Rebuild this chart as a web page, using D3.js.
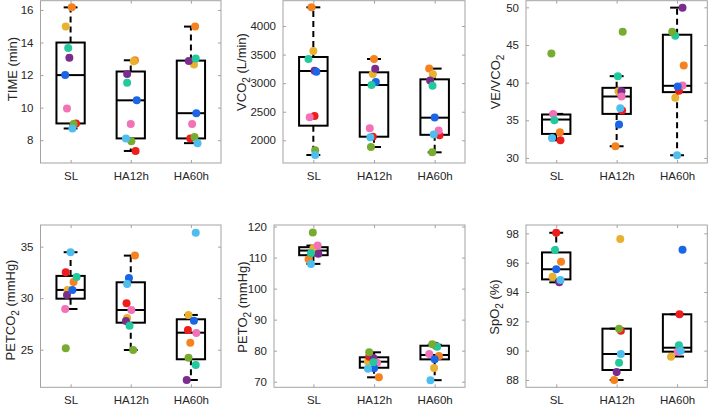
<!DOCTYPE html>
<html lang="en">
<head>
<meta charset="UTF-8">
<title>Box plots</title>
<style>
  body { margin: 0; background: #fff; }
  text { font-family: "Liberation Sans", Arial, sans-serif; }
</style>
</head>
<body>
<div id="chart"></div>
<script src="https://d3js.org/d3.v7.min.js"></script>
<script>
// categories
var groups = ["SL", "HA12h", "HA60h"];

// subject colours, in drawing order
var subjColors = ["#f5821f", "#e8b130", "#ee1c1c", "#7b2d8e", "#f272b8", "#1a66e6", "#22c99c", "#77ac30", "#4dbeee"];

// values per group, subjects: orange, gold, red, purple, pink, blue, teal, green, lightblue
var timeVals = [
    [16.16, 14.98, 9.03, 13.06, 9.95, 12.0, 13.67, 9.0, 8.72],
    [12.91, 12.85, 7.34, 12.06, 8.99, 10.45, 11.53, 7.93, 8.11],
    [14.98, 12.65, 8.11, 12.87, 8.99, 9.66, 13.02, 8.19, 7.82]
];
var vco2Vals = [
    [4327, 3563, 2425, 3218, 2402, 3200, 3423, 1825, 1743],
    [3423, 3160, 2063, 3253, 2210, 3020, 2968, 1883, 2052],
    [3255, 3155, 2087, 3047, 2172, 2399, 2955, 1790, 2100]
];
var vevco2Vals = [
    [33.4, null, 32.35, null, 35.85, null, 35.0, 43.88, 32.66],
    [31.55, 38.87, 36.3, 38.85, 38.16, 34.43, 40.86, 46.76, 36.6],
    [42.28, 37.98, 38.91, 49.96, 39.62, 39.49, 46.23, 46.76, 30.36]
];
var petco2Vals = [
    [31.57, 30.8, 32.51, 30.31, 28.95, 30.8, 32.06, 25.13, 34.46],
    [34.13, 28.08, 29.5, 27.79, 28.85, 31.96, 27.33, 24.97, 31.38],
    [25.68, 28.37, 26.91, 22.06, 26.62, 27.82, 23.51, 24.22, 36.36]
];
var peto2Vals = [
    [109.5, 113.0, null, 111.2, 113.87, null, 111.4, 118.07, 107.97],
    [71.42, 76.45, 78.06, 77.64, 76.13, 74.3, 76.24, 79.48, 74.2],
    [78.3, 74.4, null, 81.6, 78.9, 77.2, 81.3, 82.06, 70.5]
];
var spo2Vals = [
    [96.07, 95.04, 98.04, 94.66, null, 95.55, 96.86, null, 94.82],
    [88.0, 97.61, 91.36, 88.55, null, null, 89.18, 91.5, 89.77],
    [null, 89.59, 92.48, null, 89.93, 96.88, 90.36, null, 90.0]
];

// horizontal jitter of each dot (category units)
var timeJit = [
    [0.02, -0.08, 0.09, -0.02, -0.06, -0.09, -0.04, 0.05, 0.03],
    [0.07, 0.05, 0.08, -0.06, 0.0, 0.10, -0.06, 0.01, -0.08],
    [0.07, 0.05, -0.01, -0.035, 0.02, 0.09, 0.08, 0.06, 0.11]
];
var vco2Jit = [
    [-0.03, 0.0, 0.02, 0.02, -0.06, 0.05, -0.08, 0.03, 0.03],
    [0.0, -0.02, -0.02, 0.02, -0.07, 0.03, -0.04, -0.05, -0.06],
    [-0.09, -0.03, 0.08, -0.075, 0.065, 0.0, -0.035, -0.04, -0.015]
];
var vevco2Jit = [
    [0.06, 0, 0.07, 0, -0.05, 0, -0.03, -0.08, -0.07],
    [-0.02, 0.03, 0.09, 0.08, 0.08, 0.04, 0.02, 0.10, 0.06],
    [0.11, -0.03, 0.03, 0.09, 0.09, 0.01, -0.03, -0.08, 0.0]
];
var petco2Jit = [
    [0.05, -0.05, -0.08, -0.06, -0.09, 0.03, 0.10, -0.08, 0.0],
    [0.07, -0.06, -0.07, -0.08, 0.01, -0.03, -0.02, 0.04, -0.06],
    [-0.01, -0.04, -0.05, -0.07, 0.09, 0.05, 0.08, -0.04, 0.08]
];
var peto2Jit = [
    [-0.08, 0.0, 0, 0.08, 0.07, 0, -0.04, -0.01, -0.04],
    [0.08, -0.10, -0.08, -0.01, 0.05, 0.0, -0.01, -0.08, -0.10],
    [0.07, -0.01, 0, 0.02, -0.09, 0.0, 0.04, -0.04, -0.07]
];
var spo2Jit = [
    [0.08, -0.06, 0.0, 0.05, 0, 0.0, -0.02, 0, 0.07],
    [-0.04, 0.06, 0.07, 0.0, 0, 0, 0.04, 0.04, 0.07],
    [0, -0.10, 0.04, 0, 0.01, 0.09, 0.03, 0, 0.06]
];

// box stats per group: [lower whisker, q1, median, q3, upper whisker]
var timeBox = [[8.72, 9.03, 12.0, 14.0, 16.16], [7.34, 8.11, 10.45, 12.22, 12.91], [7.82, 8.11, 9.66, 12.89, 14.98]];
var vco2Box = [[1743, 2256, 3213, 3458, 4327], [1883, 2063, 2968, 3190, 3423], [1790, 2096, 2396, 3067, 3255]];
var vevco2Box = [[32.35, 33.19, 35.1, 35.77, 35.85], [31.55, 35.85, 38.16, 39.31, 40.86], [30.36, 38.74, 39.58, 46.36, 49.96]];
var petco2Box = [[28.95, 29.95, 30.8, 32.16, 34.46], [24.97, 27.62, 28.85, 31.54, 34.13], [22.06, 24.07, 26.65, 27.95, 28.37]];
var peto2Box = [[107.97, 110.77, 112.26, 113.35, 113.87], [71.42, 74.5, 76.45, 77.87, 79.48], [70.5, 77.2, 78.6, 81.6, 81.9]];
var spo2Box = [[94.66, 94.86, 95.55, 96.7, 98.04], [88.0, 88.68, 89.77, 91.5, 91.5], [89.6, 89.93, 90.2, 92.48, 92.48]];

// tick labels
var timeTicks = [8, 10, 12, 14, 16];
var vco2Ticks = [2000, 2500, 3000, 3500, 4000];
var vevco2Ticks = [30, 35, 40, 45, 50];
var petco2Ticks = [25, 30, 35];
var peto2Ticks = [70, 80, 90, 100, 110, 120];
var spo2Ticks = [88, 90, 92, 94, 96, 98];

// axis limits
var timeLim = [6.6, 16.57];
var vco2Lim = [1603, 4443];
var vevco2Lim = [29.33, 50.88];
var petco2Lim = [21.35, 37.1];
var peto2Lim = [68.2, 120.5];
var spo2Lim = [87.5, 98.57];

var W = 709, H = 405;
var svg = d3.select("#chart").append("svg")
    .attr("width", W).attr("height", H);

var panels = [
    { vals: timeVals, jit: timeJit, box: timeBox, ticks: timeTicks, ylim: timeLim, xlim: [0.5, 3.5],
      left: 40.5, right: 221, top: 0.7, bottom: 163,
      label: [["TIME (min)", 0]], lx: 12, ly: 69 },
    { vals: vco2Vals, jit: vco2Jit, box: vco2Box, ticks: vco2Ticks, ylim: vco2Lim, xlim: [0.5, 3.5],
      left: 283, right: 465, top: 0.7, bottom: 163,
      label: [["VCO", 0], ["2", 1], [" (L/min)", 0]], lx: 241, ly: 72 },
    { vals: vevco2Vals, jit: vevco2Jit, box: vevco2Box, ticks: vevco2Ticks, ylim: vevco2Lim, xlim: [0.5, 3.5],
      left: 526, right: 707.3, top: 0.7, bottom: 163,
      label: [["VE/VCO", 0], ["2", 1]], lx: 495, ly: 82 },
    { vals: petco2Vals, jit: petco2Jit, box: petco2Box, ticks: petco2Ticks, ylim: petco2Lim, xlim: [0.5, 3.5],
      left: 40.5, right: 221, top: 225, bottom: 387.3,
      label: [["PETCO", 0], ["2", 1], [" (mmHg)", 0]], lx: 10, ly: 310 },
    { vals: peto2Vals, jit: peto2Jit, box: peto2Box, ticks: peto2Ticks, ylim: peto2Lim, xlim: [0.35, 3.5],
      left: 274, right: 465, top: 225, bottom: 387.3,
      label: [["PETO", 0], ["2", 1], [" (mmHg)", 0]], lx: 242, ly: 307 },
    { vals: spo2Vals, jit: spo2Jit, box: spo2Box, ticks: spo2Ticks, ylim: spo2Lim, xlim: [0.5, 3.5],
      left: 526, right: 707.3, top: 225, bottom: 387.3,
      label: [["SpO", 0], ["2", 1], [" (%)", 0]], lx: 494, ly: 307 }
];

var frameColor = "#a3a3a3";
var textColor = "#262626";
var boxHalf = 0.235, capHalf = 0.115;

function styleAxis(g) {
    g.select(".domain").remove();
    g.selectAll("line").attr("stroke", frameColor);
    g.selectAll("text").attr("fill", textColor).style("font-size", "11.5px")
        .style("font-family", "'Liberation Sans', Arial, sans-serif");
}

panels.forEach(function(p) {
    var x = d3.scaleLinear().domain(p.xlim).range([p.left, p.right]);
    var y = d3.scaleLinear().domain(p.ylim).range([p.bottom, p.top]);
    var g = svg.append("g");

    g.append("rect")
        .attr("x", p.left).attr("y", p.top)
        .attr("width", p.right - p.left).attr("height", p.bottom - p.top)
        .attr("fill", "#fff").attr("stroke", frameColor).attr("stroke-width", 1);

    g.append("g").attr("transform", "translate(" + p.left + ",0)")
        .call(d3.axisLeft(y).tickValues(p.ticks).tickSizeInner(-3).tickSizeOuter(0).tickPadding(7)
            .tickFormat(d3.format("d")))
        .call(styleAxis);
    g.append("g").attr("transform", "translate(" + p.right + ",0)")
        .call(d3.axisRight(y).tickValues(p.ticks).tickSizeInner(-3).tickSizeOuter(0).tickFormat(""))
        .call(styleAxis);
    g.append("g").attr("transform", "translate(0," + p.bottom + ")")
        .call(d3.axisBottom(x).tickValues([1, 2, 3]).tickSizeInner(-3).tickSizeOuter(0).tickPadding(9)
            .tickFormat(function(d) { return groups[d - 1]; }))
        .call(styleAxis);
    g.append("g").attr("transform", "translate(0," + p.top + ")")
        .call(d3.axisTop(x).tickValues([1, 2, 3]).tickSizeInner(-3).tickSizeOuter(0).tickFormat(""))
        .call(styleAxis);

    // y label
    var lab = g.append("text")
        .attr("transform", "translate(" + (p.lx + 4.5) + "," + p.ly + ") rotate(-90)")
        .attr("text-anchor", "middle")
        .attr("fill", textColor)
        .style("font-size", "13px");
    var shifted = false;
    p.label.forEach(function(part) {
        var t = lab.append("tspan").text(part[0]);
        if (part[1]) {
            t.attr("dy", 4).style("font-size", "10px");
            shifted = true;
        } else if (shifted) {
            t.attr("dy", -4);
            shifted = false;
        }
    });

    // boxes and whiskers
    p.box.forEach(function(b, i) {
        var c = i + 1;
        var bg = g.append("g").attr("stroke", "#000").attr("fill", "none").attr("stroke-width", 2);
        // whiskers
        bg.append("line").attr("x1", x(c)).attr("x2", x(c)).attr("y1", y(b[3])).attr("y2", y(b[4]))
            .attr("stroke-dasharray", "6,4");
        bg.append("line").attr("x1", x(c)).attr("x2", x(c)).attr("y1", y(b[1])).attr("y2", y(b[0]))
            .attr("stroke-dasharray", "6,4");
        // caps
        [b[0], b[4]].forEach(function(v) {
            bg.append("line").attr("x1", x(c - capHalf)).attr("x2", x(c + capHalf))
                .attr("y1", y(v)).attr("y2", y(v));
        });
        // box
        bg.append("rect")
            .attr("x", x(c - boxHalf)).attr("width", x(c + boxHalf) - x(c - boxHalf))
            .attr("y", y(b[3])).attr("height", y(b[1]) - y(b[3]));
        // median
        bg.append("line").attr("x1", x(c - boxHalf)).attr("x2", x(c + boxHalf))
            .attr("y1", y(b[2])).attr("y2", y(b[2]));
    });

    // dots
    var pts = [];
    p.vals.forEach(function(arr, i) {
        arr.forEach(function(v, s) {
            if (v !== null) pts.push({ g: i + 1, v: v, j: p.jit[i][s], s: s });
        });
    });
    pts.sort(function(a, b) { return a.s - b.s; });
    g.selectAll("circle.dot").data(pts).enter().append("circle")
        .attr("class", "dot")
        .attr("cx", function(d) { return x(d.g + d.j); })
        .attr("cy", function(d) { return y(d.v); })
        .attr("r", 4)
        .attr("fill", function(d) { return subjColors[d.s]; });
});
</script>
</body>
</html>
